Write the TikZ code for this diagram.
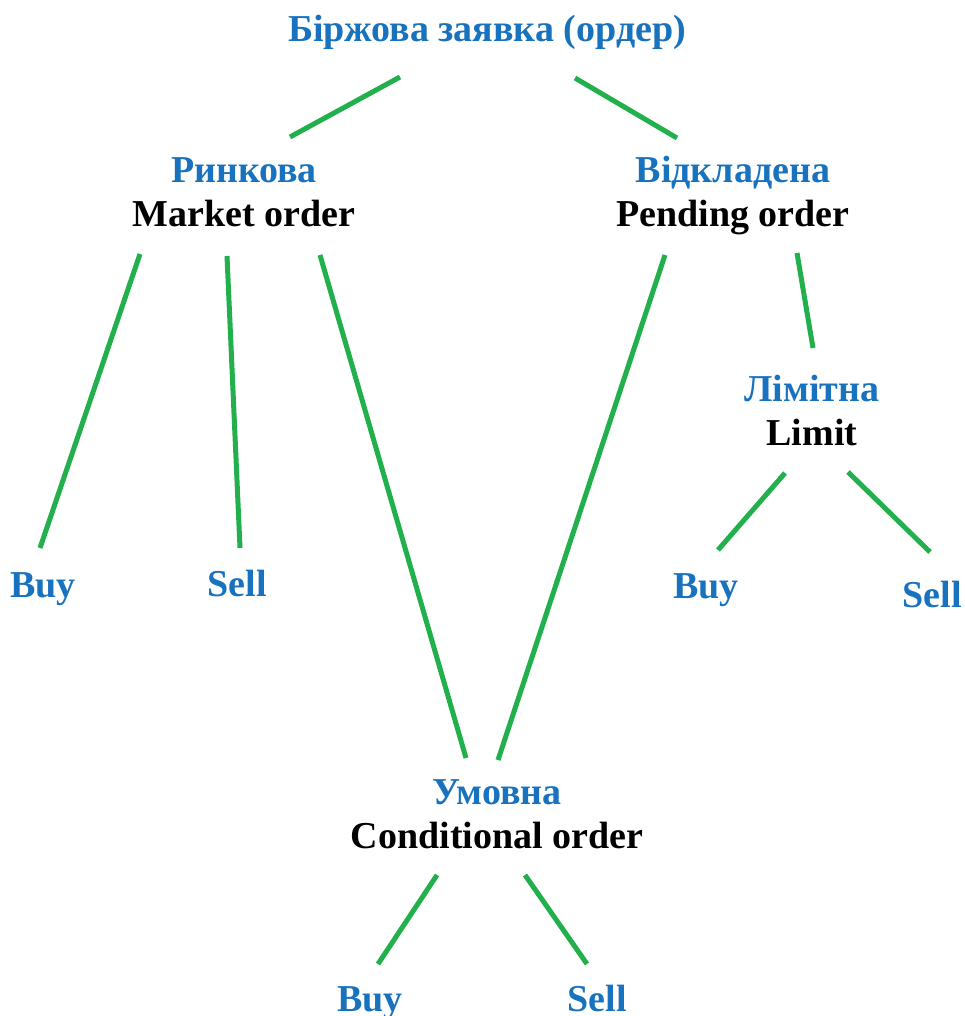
\documentclass[tikz,border=0pt]{standalone}
\usepackage{fontspec}
\setmainfont{Liberation Serif}
\definecolor{ordblue}{RGB}{24,114,190}
\definecolor{branchgreen}{RGB}{34,176,76}
\tikzset{
  lbl/.style={inner sep=0pt, align=center, font=\fontsize{38}{44}\selectfont\bfseries},
  blue lbl/.style={lbl, text=ordblue},
  leaf/.style={blue lbl, anchor=base},
  branch/.style={line width=5pt, branchgreen}
}
\begin{document}
\begin{tikzpicture}[x=1pt,y=-1pt]
    \useasboundingbox (0,0) rectangle (965,1016);

    % Root
    \node[blue lbl] (root) at (487,32) {Біржова заявка (ордер)};

    % Order types
    \node[lbl] (market) at (244,192) {\textcolor{ordblue}{Ринкова}\\Market order};
    \node[lbl] (pending) at (733,196) {\textcolor{ordblue}{Відкладена}\\Pending order};
    \node[lbl] (limit) at (812,410) {\textcolor{ordblue}{Лімітна}\\Limit};
    \node[lbl] (cond) at (497,814) {\textcolor{ordblue}{Умовна}\\Conditional order};

    % Buy / Sell leaves (placed on their baselines)
    \node[leaf] (mbuy) at (43,597) {Buy};
    \node[leaf] (msell) at (237,596) {Sell};
    \node[leaf] (lbuy) at (706,598) {Buy};
    \node[leaf] (lsell) at (932,607) {Sell};
    \node[leaf] (cbuy) at (370,1011) {Buy};
    \node[leaf] (csell) at (597,1011) {Sell};

    % Branches
    \draw[branch] ([shift={(-87,45)}]root.center) -- ([shift={(46,-55)}]market.center);
    \draw[branch] ([shift={(88,46)}]root.center) -- ([shift={(-56,-58)}]pending.center);

    \draw[branch] ([shift={(-104,62)}]market.center) -- ([shift={(-3,-49)}]mbuy.base);
    \draw[branch] ([shift={(-17,64)}]market.center) -- ([shift={(3,-48)}]msell.base);
    \draw[branch] ([shift={(76,63)}]market.center) -- ([shift={(-31,-56)}]cond.center);

    \draw[branch] ([shift={(-68,59)}]pending.center) -- ([shift={(1,-54)}]cond.center);
    \draw[branch] ([shift={(64,57)}]pending.center) -- ([shift={(1,-62)}]limit.center);

    \draw[branch] ([shift={(-27,63)}]limit.center) -- ([shift={(12,-48)}]lbuy.base);
    \draw[branch] ([shift={(36,62)}]limit.center) -- ([shift={(-2,-55)}]lsell.base);

    \draw[branch] ([shift={(-60,61)}]cond.center) -- ([shift={(8,-47)}]cbuy.base);
    \draw[branch] ([shift={(28,61)}]cond.center) -- ([shift={(-10,-47)}]csell.base);
\end{tikzpicture}
\end{document}
